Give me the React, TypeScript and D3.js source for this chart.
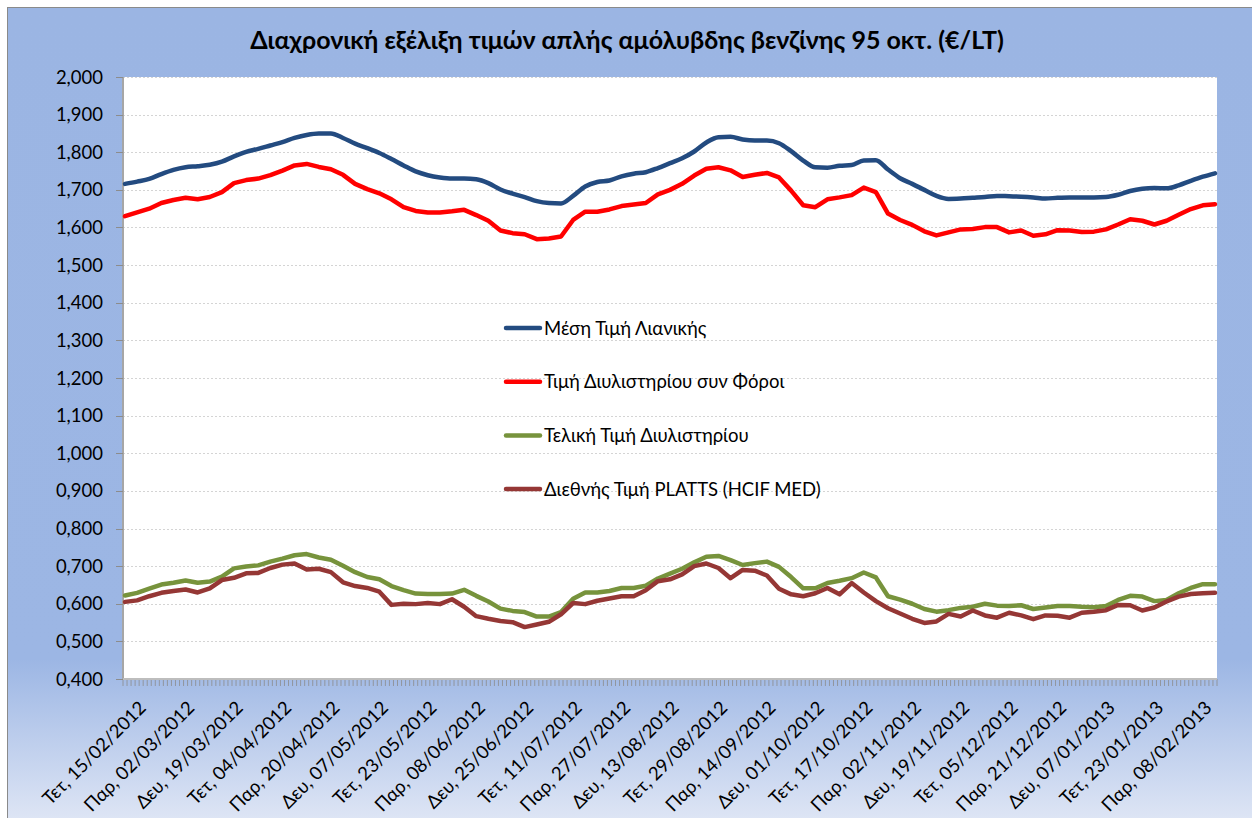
import React, { useRef, useEffect } from 'react';
import * as d3 from 'd3';

const chartWidth = 1252;
const chartHeight = 818;
const plot = { left: 123, right: 1217, top: 77, bottom: 679 };
const fontFamily = "Lato, 'Noto Sans', sans-serif";
const titleText = 'Διαχρονική εξέλιξη τιμών απλής αμόλυβδης βενζίνης 95 οκτ. (€/LT)';

// weekdays on the category axis, one value read every 3rd weekday
const categoryCount = 271;
const sampleStep = 3;
const firstLabelIndex = 4;
const labelEvery = 12;

const tickLabels = [
    'Τετ, 15/02/2012', 'Παρ, 02/03/2012', 'Δευ, 19/03/2012', 'Τετ, 04/04/2012',
    'Παρ, 20/04/2012', 'Δευ, 07/05/2012', 'Τετ, 23/05/2012', 'Παρ, 08/06/2012',
    'Δευ, 25/06/2012', 'Τετ, 11/07/2012', 'Παρ, 27/07/2012', 'Δευ, 13/08/2012',
    'Τετ, 29/08/2012', 'Παρ, 14/09/2012', 'Δευ, 01/10/2012', 'Τετ, 17/10/2012',
    'Παρ, 02/11/2012', 'Δευ, 19/11/2012', 'Τετ, 05/12/2012', 'Παρ, 21/12/2012',
    'Δευ, 07/01/2013', 'Τετ, 23/01/2013', 'Παρ, 08/02/2013'
];

const retailPrice = [
    1.716, 1.722, 1.729, 1.742, 1.753, 1.760, 1.763, 1.767, 1.775, 1.789,
    1.801, 1.809, 1.818, 1.827, 1.838, 1.846, 1.850, 1.850, 1.838, 1.823,
    1.811, 1.798, 1.782, 1.765, 1.749, 1.739, 1.733, 1.730, 1.730, 1.728,
    1.718, 1.701, 1.690, 1.681, 1.670, 1.665, 1.664, 1.684, 1.709, 1.721,
    1.725, 1.736, 1.743, 1.747, 1.758, 1.771, 1.784, 1.802, 1.826, 1.840,
    1.841, 1.834, 1.831, 1.831, 1.824, 1.803, 1.778, 1.760, 1.759, 1.764,
    1.766, 1.778, 1.779, 1.754, 1.731, 1.716, 1.700, 1.684, 1.676, 1.677,
    1.679, 1.681, 1.684, 1.683, 1.682, 1.680, 1.677, 1.679, 1.680, 1.680,
    1.680, 1.681, 1.687, 1.697, 1.703, 1.705, 1.704, 1.712, 1.724, 1.735,
    1.744
];

const refineryWithTax = [
    1.630, 1.640, 1.650, 1.665, 1.673, 1.679, 1.675, 1.681, 1.694, 1.718,
    1.726, 1.730, 1.739, 1.751, 1.765, 1.769, 1.761, 1.755, 1.740, 1.716,
    1.702, 1.691, 1.675, 1.654, 1.644, 1.640, 1.640, 1.643, 1.647, 1.633,
    1.618, 1.592, 1.585, 1.582, 1.569, 1.571, 1.576, 1.620, 1.642, 1.642,
    1.648, 1.657, 1.661, 1.665, 1.688, 1.700, 1.716, 1.738, 1.756, 1.760,
    1.752, 1.734, 1.740, 1.745, 1.733, 1.698, 1.659, 1.654, 1.675, 1.680,
    1.686, 1.706, 1.694, 1.637, 1.620, 1.607, 1.590, 1.579, 1.587, 1.595,
    1.596, 1.601, 1.601, 1.587, 1.592, 1.578, 1.582, 1.593, 1.592, 1.588,
    1.589, 1.595, 1.608, 1.622, 1.618, 1.608, 1.618, 1.634, 1.649, 1.659,
    1.662
];

const refineryPrice = [
    0.622, 0.629, 0.640, 0.651, 0.656, 0.662, 0.656, 0.659, 0.672, 0.694,
    0.699, 0.702, 0.712, 0.720, 0.729, 0.732, 0.723, 0.717, 0.701, 0.684,
    0.671, 0.665, 0.647, 0.636, 0.627, 0.626, 0.626, 0.627, 0.637, 0.621,
    0.606, 0.587, 0.581, 0.578, 0.566, 0.566, 0.578, 0.613, 0.630, 0.630,
    0.634, 0.642, 0.642, 0.648, 0.667, 0.680, 0.693, 0.710, 0.725, 0.727,
    0.716, 0.703, 0.708, 0.712, 0.698, 0.671, 0.641, 0.641, 0.655, 0.661,
    0.668, 0.683, 0.670, 0.620, 0.611, 0.600, 0.586, 0.579, 0.583, 0.589,
    0.592, 0.600, 0.595, 0.594, 0.596, 0.586, 0.590, 0.594, 0.594, 0.592,
    0.591, 0.594, 0.610, 0.621, 0.619, 0.607, 0.610, 0.628, 0.642, 0.652,
    0.652
];

const plattsPrice = [
    0.605, 0.609, 0.620, 0.629, 0.634, 0.638, 0.630, 0.641, 0.663, 0.669,
    0.681, 0.682, 0.695, 0.704, 0.707, 0.691, 0.693, 0.684, 0.657, 0.647,
    0.642, 0.632, 0.597, 0.600, 0.599, 0.602, 0.599, 0.612, 0.592, 0.567,
    0.560, 0.554, 0.551, 0.538, 0.545, 0.552, 0.572, 0.602, 0.599, 0.608,
    0.614, 0.620, 0.620, 0.636, 0.660, 0.665, 0.678, 0.700, 0.707, 0.695,
    0.668, 0.690, 0.688, 0.675, 0.640, 0.625, 0.620, 0.628, 0.642, 0.625,
    0.655, 0.630, 0.607, 0.588, 0.574, 0.560, 0.549, 0.553, 0.573, 0.566,
    0.582, 0.569, 0.563, 0.576, 0.569, 0.559, 0.569, 0.568, 0.563, 0.576,
    0.579, 0.583, 0.597, 0.596, 0.582, 0.590, 0.606, 0.619, 0.626, 0.628,
    0.629
];

const seriesNames = [
    'Μέση Τιμή Λιανικής',
    'Τιμή Διυλιστηρίου συν Φόροι',
    'Τελική Τιμή Διυλιστηρίου',
    'Διεθνής Τιμή PLATTS (HCIF MED)'
];
const seriesValues = [retailPrice, refineryWithTax, refineryPrice, plattsPrice];
const seriesColors = ['#234B80', '#FF0000', '#77933C', '#953735'];

const drawChart = (element: SVGGElement) => {
    const root = d3.select(element);
    root.selectAll('*').remove();

    const x = d3.scaleLinear([0, categoryCount], [plot.left, plot.right]);
    const y = d3.scaleLinear([0.4, 2.0], [plot.bottom, plot.top]);
    const yTicks = y.ticks(16);
    const fmt = (v: number) => d3.format('.3f')(v).replace('.', ',');

    // plot background
    root.append('rect')
        .attr('x', plot.left).attr('y', plot.top)
        .attr('width', plot.right - plot.left).attr('height', plot.bottom - plot.top)
        .attr('fill', '#ffffff');

    // gridlines
    root.append('g').selectAll('line')
        .data(yTicks.filter(t => t > 0.4))
        .join('line')
        .attr('x1', plot.left).attr('x2', plot.right)
        .attr('y1', d => Math.round(y(d)) + 0.5).attr('y2', d => Math.round(y(d)) + 0.5)
        .attr('stroke', '#d4d4d4')
        .attr('stroke-dasharray', '2,2');

    // y axis
    const yAxis = root.append('g');
    yAxis.append('line')
        .attr('x1', plot.left).attr('x2', plot.left)
        .attr('y1', plot.top).attr('y2', plot.bottom)
        .attr('stroke', '#a6a6a6').attr('stroke-width', 2);
    yAxis.selectAll('line.tick')
        .data(yTicks)
        .join('line')
        .classed('tick', true)
        .attr('x1', plot.left - 7).attr('x2', plot.left)
        .attr('y1', d => Math.round(y(d)) + 0.5).attr('y2', d => Math.round(y(d)) + 0.5)
        .attr('stroke', '#8c8c8c');
    yAxis.selectAll('text')
        .data(yTicks)
        .join('text')
        .attr('x', 103)
        .attr('y', d => y(d) + 6.5)
        .attr('text-anchor', 'end')
        .attr('font-size', 18.5)
        .attr('fill', '#000')
        .text(fmt);

    // x axis
    const xAxis = root.append('g');
    xAxis.selectAll('line')
        .data(d3.range(categoryCount + 1))
        .join('line')
        .attr('x1', d => x(d)).attr('x2', d => x(d))
        .attr('y1', plot.bottom).attr('y2', plot.bottom + 7)
        .attr('stroke', '#8c8c8c').attr('stroke-width', 0.8);
    xAxis.append('line')
        .attr('x1', plot.left).attr('x2', plot.right)
        .attr('y1', plot.bottom).attr('y2', plot.bottom)
        .attr('stroke', '#bdbdbd').attr('stroke-width', 2);
    xAxis.selectAll('text')
        .data(tickLabels)
        .join('text')
        .attr('transform', (d, i) =>
            `translate(${x(firstLabelIndex + i * labelEvery + 0.5) + 6} ${plot.bottom + 30}) rotate(-45)`)
        .attr('text-anchor', 'end')
        .attr('font-size', 18.5)
        .attr('fill', '#000')
        .text(d => d);

    // series lines
    seriesValues.forEach((values, s) => {
        const line = d3.line<number>()
            .x((d, i) => x(i * sampleStep + 0.5))
            .y(d => y(d))
            .curve(s === 0 ? d3.curveMonotoneX : d3.curveLinear);
        root.append('path')
            .attr('d', line(values))
            .attr('fill', 'none')
            .attr('stroke', seriesColors[s])
            .attr('stroke-width', 4.5)
            .attr('stroke-linejoin', 'round')
            .attr('stroke-linecap', 'round');
    });

    // legend inside the plot
    const legend = root.append('g')
        .selectAll('g')
        .data(seriesNames)
        .join('g')
        .attr('transform', (d, i) => `translate(506 ${328 + i * 53.7})`);
    legend.append('line')
        .attr('x1', 0).attr('x2', 34)
        .attr('stroke', (d, i) => seriesColors[i])
        .attr('stroke-width', 4.5)
        .attr('stroke-linecap', 'round');
    legend.append('text')
        .attr('x', 38)
        .attr('y', 6.5)
        .attr('font-size', 18.5)
        .attr('fill', '#000')
        .text(d => d);
};

const App = () => {
    const containerRef = useRef<SVGGElement>(null);

    useEffect(() => {
        if (containerRef.current) drawChart(containerRef.current);
    }, []);

    return (
        <svg width={chartWidth} height={chartHeight}
             style={{ position: 'absolute', left: 0, top: 0, display: 'block', fontFamily }}>
            <defs>
                <linearGradient id="chartBg" x1="0" y1="0" x2="0" y2="1">
                    <stop offset="0" stopColor="#9bb5e3" />
                    <stop offset="0.8" stopColor="#9cb6e4" />
                    <stop offset="1" stopColor="#dfe6f5" />
                </linearGradient>
            </defs>
            <rect x={7.5} y={7.5} width={1260} height={815}
                  fill="url(#chartBg)" stroke="#8a8a8a" strokeWidth={1} />
            <text x={627} y={49} textAnchor="middle" fontSize={25} fontWeight="bold" fill="#000">
                {titleText}
            </text>
            <g ref={containerRef} />
        </svg>
    );
};

export default App;
